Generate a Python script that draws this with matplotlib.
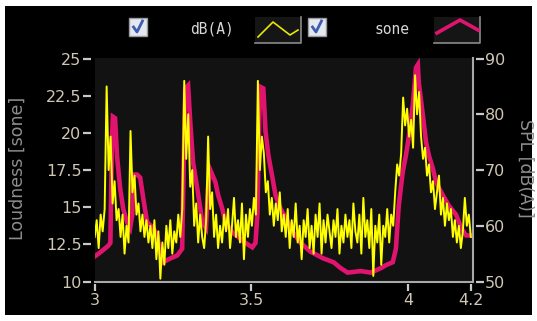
import numpy as np
import matplotlib
matplotlib.use("Agg")
import matplotlib.pyplot as plt
from matplotlib.patches import Rectangle

# loudness (sone)
sone_t = [3.001, 3.020, 3.043, 3.050, 3.055, 3.058, 3.065, 3.071, 3.081, 3.091,
          3.103, 3.113, 3.120, 3.123, 3.135, 3.145, 3.155, 3.167, 3.187, 3.199,
          3.209, 3.218, 3.241, 3.263, 3.279, 3.284, 3.289, 3.298, 3.305, 3.314,
          3.327, 3.337, 3.343, 3.355, 3.362, 3.369, 3.385, 3.394, 3.407, 3.417,
          3.439, 3.458, 3.481, 3.503, 3.513, 3.519, 3.525, 3.529, 3.538, 3.545,
          3.554, 3.567, 3.577, 3.593, 3.609, 3.630, 3.657, 3.689, 3.730, 3.762,
          3.785, 3.807, 3.849, 3.881, 3.913, 3.929, 3.951, 3.961, 3.970, 3.983,
          3.993, 4.002, 4.015, 4.025, 4.031, 4.034, 4.047, 4.057, 4.066, 4.079,
          4.089, 4.098, 4.111, 4.130, 4.153, 4.169, 4.185, 4.205]
sone = [11.7, 12.0, 12.4, 12.6, 19.5, 21.1, 21.0, 18.5, 16.3, 14.9,
        14.0, 13.6, 14.5, 17.2, 17.2, 17.0, 15.6, 14.0, 13.6, 13.1,
        12.0, 11.3, 11.55, 11.75, 12.2, 18.0, 23.0, 23.2, 20.7, 18.0,
        16.3, 14.9, 14.0, 13.6, 16.5, 17.5, 16.7, 15.8, 14.9, 14.0,
        13.3, 13.0, 12.6, 12.3, 12.6, 14.5, 21.0, 23.1, 23.0, 20.1,
        18.5, 17.0, 15.8, 14.9, 14.3, 13.4, 12.6, 12.0, 11.55, 11.3,
        10.9, 10.6, 10.7, 10.6, 10.9, 11.1, 11.3, 12.2, 15.1, 17.4,
        18.5, 19.7, 21.9, 24.4, 24.6, 23.4, 21.2, 19.4, 18.5, 17.6,
        16.7, 16.3, 15.8, 15.1, 14.5, 13.6, 13.1, 13.1]

# SPL dB(A) (even time steps 3.0 .. 4.2)
spl = [58, 61, 56, 62, 59, 63, 85, 70, 76, 64,
       68, 61, 63, 58, 62, 55, 60, 57, 77, 66,
       69, 62, 64, 59, 62, 58, 61, 57, 60, 56,
       61, 54, 59, 50.5, 57, 53, 60, 56, 61, 55,
       59, 57, 62, 58, 63, 86, 72, 80, 67, 70,
       60, 64, 57, 62, 58, 56, 61, 76, 63, 66,
       58, 62, 56, 60, 57, 62, 59, 63, 56, 60,
       65, 58, 61, 57, 64, 54, 62, 58, 63, 60,
       65, 62, 86, 70, 76, 73, 66, 68, 62, 65,
       60, 64, 61, 66, 59, 62, 58, 63, 56, 61,
       58, 64, 57, 60, 54, 61, 58, 63, 56, 60,
       55, 62, 58, 64, 55, 61, 57, 62, 59, 56,
       61, 58, 63, 55, 60, 57, 62, 58, 61, 56,
       64, 59, 57, 62, 55, 65, 58, 61, 56, 63,
       51, 60, 57, 62, 53, 60, 58, 63, 57, 62,
       60, 66, 71, 69, 73, 83, 78, 81, 76, 79,
       74, 87, 80, 84, 76, 72, 74, 69, 71, 66,
       68, 63, 66, 69, 62, 65, 60, 64, 61, 63,
       58, 61, 57, 60, 56, 59, 65, 60, 62, 58]
spl_t = np.linspace(3.0, 4.2, len(spl))

left_ticks = [10, 12.5, 15, 17.5, 20, 22.5, 25]
right_ticks = [50, 60, 70, 80, 90]
x_ticks = [3, 3.5, 4, 4.2]
x_labels = ["3", "3.5", "4", "4.2"]

W, H = 537, 321
fig = plt.figure(figsize=(W / 100, H / 100), dpi=100, facecolor="white")
fig.patches.append(Rectangle((5 / W, 6 / H), 527 / W, 309 / H, transform=fig.transFigure,
                             facecolor="black", edgecolor="none", zorder=-10))

ax = fig.add_axes([94.7 / W, (H - 281.5) / H, (473 - 94.7) / W, (281.5 - 58) / H])
ax.set_facecolor("#121212")
ax2 = ax.twinx()

ax.plot(sone_t, sone, color="#e0146e", lw=3.3, solid_joinstyle="miter")
ax2.plot(spl_t, spl, color="#ffff00", lw=1.4)

ax.set_xlim(3, 4.207)
ax.set_ylim(10, 25.05)
ax2.set_ylim(50, 90.1)

for a in (ax, ax2):
    for s in a.spines.values():
        s.set_visible(False)
ax.spines["left"].set_position(("outward", 3))
ax2.spines["right"].set_position(("outward", 2.3))
ax.spines["bottom"].set_position(("outward", 1.5))

tick_col = "#c8c8c8"
lab_col = "#cfc6b4"
ax.set_yticks(left_ticks)
ax.set_yticklabels(["10", "12.5", "15", "17.5", "20", "22.5", "25"])
ax2.set_yticks(right_ticks)
ax.set_xticks(x_ticks)
ax.set_xticklabels(x_labels)
ax.tick_params(axis="y", length=5.5, width=1.6, color=tick_col, labelcolor=lab_col,
               labelsize=11.5, pad=1)
ax2.tick_params(axis="y", length=5.5, width=1.6, color=tick_col, labelcolor=lab_col,
                labelsize=11.5, pad=1)
ax.tick_params(axis="x", length=5, width=1.6, color=tick_col, labelcolor=lab_col,
               labelsize=11.5, pad=2)

# panel edges (bottom and right only)
ax.plot([0, 1], [0, 0], transform=ax.transAxes, color="#a8a8a8", lw=1.5, clip_on=False)
ax.plot([1, 1], [0, 1], transform=ax.transAxes, color="#a8a8a8", lw=1.5, clip_on=False)

fig.text(18 / W, 1 - 168 / H, "Loudness [sone]", rotation=90, color="#8e8e8e",
         fontsize=12.5, ha="center", va="center")
fig.text(525 / W, 1 - 168 / H, "SPL [dB(A)]", rotation=270, color="#8e8e8e",
         fontsize=12.5, ha="center", va="center")


# legend strip at the top
def px(x, y):
    return x / W, 1 - y / H


def checkbox(x0):
    fig.patches.append(Rectangle(px(x0, 36), 18 / W, 18 / H, transform=fig.transFigure,
                                 facecolor="#e4e8f0", edgecolor="#9a9a9a", lw=1))
    xs = [x0 + 4.5, x0 + 8, x0 + 13.5]
    ys = [27, 32, 21]
    fig.lines.append(plt.Line2D([px(x, 0)[0] for x in xs], [px(0, y)[1] for y in ys],
                                transform=fig.transFigure, color="#3d5eb0", lw=2))


def sample_box(x0, xs, ys, col, lw):
    fig.patches.append(Rectangle(px(x0, 43), 46 / W, 26 / H, transform=fig.transFigure,
                                 facecolor="#151515", edgecolor="none"))
    fig.lines.append(plt.Line2D([px(x0, 43)[0], px(x0 + 46, 43)[0], px(x0 + 46, 17)[0]],
                                [px(0, 43)[1], px(0, 43)[1], px(0, 17)[1]],
                                transform=fig.transFigure, color="#8a8a8a", lw=1.2))
    fig.lines.append(plt.Line2D([px(x, 0)[0] for x in xs], [px(0, y)[1] for y in ys],
                                transform=fig.transFigure, color=col, lw=lw))


checkbox(129)
fig.text(*px(212, 29), "dB(A)", color="#d8d8d8", fontsize=10.5, family="DejaVu Sans Mono",
         ha="center", va="center")
sample_box(255, [258, 273, 290, 298], [37, 22, 35, 30], "#e8e800", 1.2)
checkbox(308)
fig.text(*px(392, 29), "sone", color="#d8d8d8", fontsize=10.5, family="DejaVu Sans Mono",
         ha="center", va="center")
sample_box(434, [437, 460, 478], [33, 20, 30], "#e0146e", 2.6)

fig.savefig("out.png", dpi=100, facecolor="white")
